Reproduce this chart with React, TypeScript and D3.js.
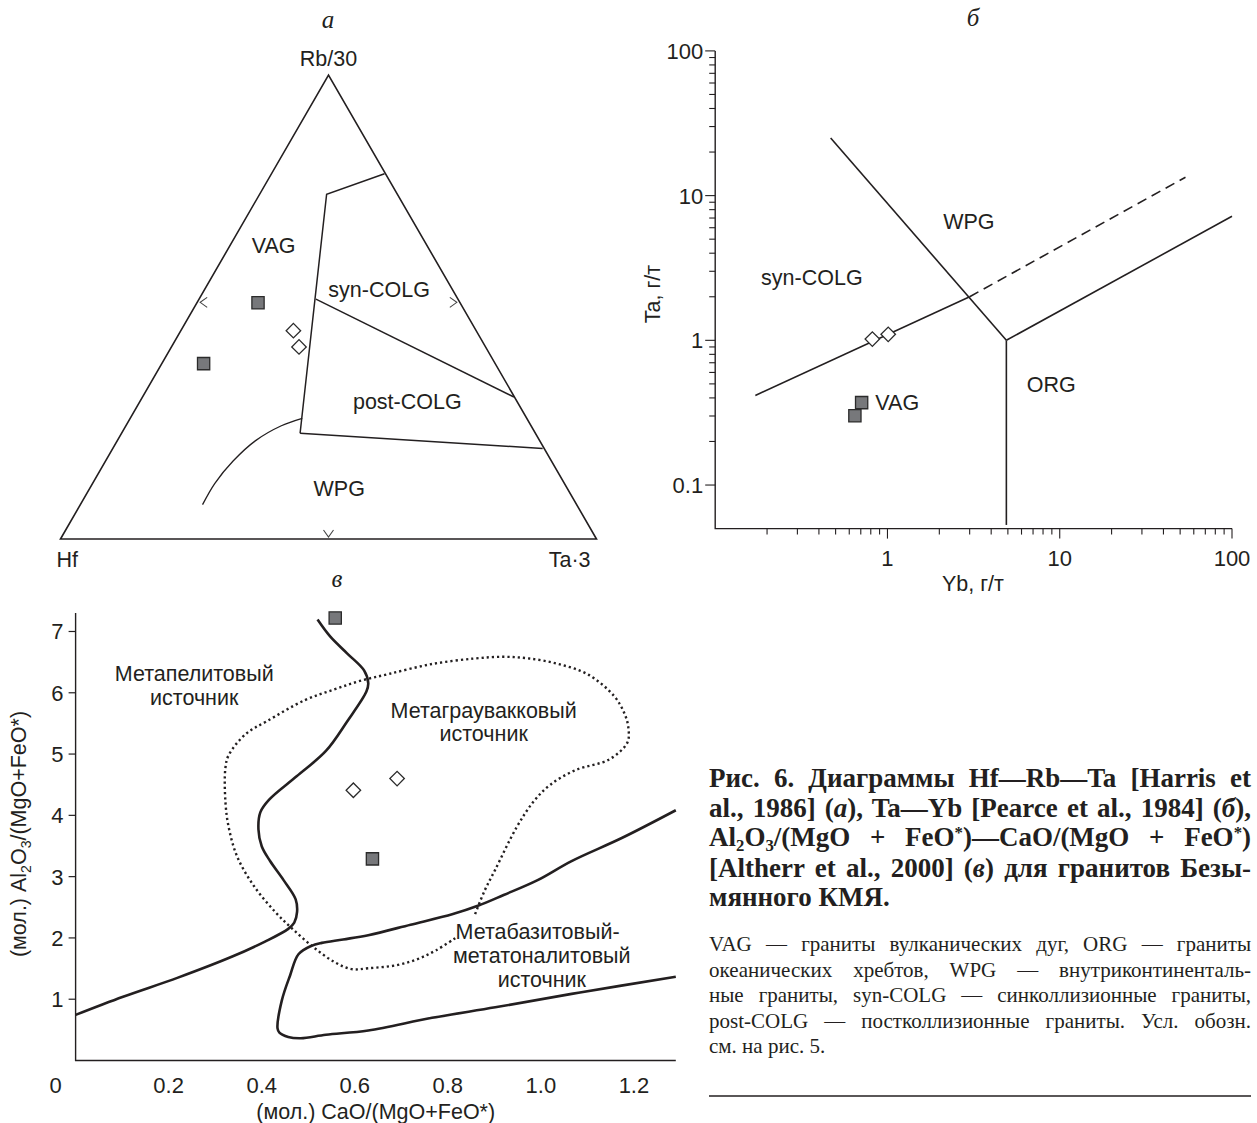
import React, { useLayoutEffect, useRef } from 'react';
import * as d3 from 'd3';

const W = 1257;
const H = 1123;
const SANS = '"Liberation Sans", Arial, sans-serif';
const SERIF = '"Liberation Serif", "Times New Roman", serif';
const INK = '#231f20';
const LABEL = 21.5;
const TICK = 22;

// ---------- Panel а : ternary Hf – Rb/30 – Ta·3 (points given as [Rb/30, Ta·3] fractions) ----------
const ternaryUpperBoundary = [[0.787, 0.211], [0.743, 0.125], [0.228, 0.333]];
const ternarySynPostBoundary = [[0.517, 0.218], [0.306, 0.693]];
const ternaryPostWpgBoundary = [[0.228, 0.333], [0.195, 0.802]];
const ternaryWpgCurve = [[0.260, 0.321], [0.244, 0.290], [0.212, 0.258], [0.168, 0.238], [0.120, 0.228], [0.074, 0.228]];
const ternarySquares = [[0.509, 0.114], [0.378, 0.078]];
const ternaryDiamonds = [[0.449, 0.210], [0.414, 0.238]];
const ternaryFieldLabels = [
  { text: 'VAG', rb: 0.633, ta: 0.081 },
  { text: 'syn-COLG', rb: 0.537, ta: 0.326 },
  { text: 'post-COLG', rb: 0.296, ta: 0.499 },
  { text: 'WPG', rb: 0.108, ta: 0.466 },
];
const ternaryEdgeMarks = [[0.51, 0.0, 'left'], [0.51, 0.49, 'right'], [0.0, 0.5, 'bottom']];
const ternaryApexLabels = ['Hf', 'Rb/30', 'Ta·3'];

// ---------- Panel б : Ta – Yb (log–log) ----------
const ybTickLabels = [1, 10, 100];
const taTickLabels = [0.1, 1, 10, 100];
const pearceUpperLine = [[0.468, 25], [4.9, 1.0]];
const pearceVerticalLine = [[4.9, 1.0], [4.9, 0.053]];
const pearceRightLine = [[4.9, 1.0], [100, 7.2]];
const pearceLowerLine = [[0.171, 0.416], [3.0, 2.0]];
const pearceDashedLine = [[3.0, 2.0], [53.7, 13.4]];
const pearceSquares = [[0.708, 0.371], [0.647, 0.301]];
const pearceDiamonds = [[0.817, 1.02], [1.01, 1.10]];
const pearceFieldLabels = [
  { text: 'WPG', x: 2.97, y: 6.65 },
  { text: 'syn-COLG', x: 0.364, y: 2.71 },
  { text: 'VAG', x: 1.14, y: 0.371 },
  { text: 'ORG', x: 8.92, y: 0.499 },
];

// ---------- Panel в : Al2O3/(MgO+FeO*) – CaO/(MgO+FeO*) ----------
const caoTicks = [0.2, 0.4, 0.6, 0.8, 1.0, 1.2];
const alTicks = [1, 2, 3, 4, 5, 6, 7];
const peliteBoundary = [
  [0.520, 7.195], [0.547, 6.92], [0.584, 6.64], [0.620, 6.365], [0.629, 6.157], [0.625, 6.02],
  [0.584, 5.536], [0.538, 5.05], [0.475, 4.637], [0.416, 4.256], [0.397, 4.049], [0.393, 3.77],
  [0.400, 3.496], [0.418, 3.254], [0.447, 2.943], [0.473, 2.63], [0.476, 2.424], [0.470, 2.25],
  [0.457, 2.148], [0.407, 1.94], [0.338, 1.70], [0.220, 1.352], [0.102, 1.04], [0.0, 0.744],
];
const basiteBoundary = [
  [1.29, 4.083], [1.175, 3.634], [1.066, 3.254], [0.993, 2.943], [0.920, 2.70], [0.866, 2.528],
  [0.811, 2.39], [0.720, 2.216], [0.629, 2.045], [0.575, 1.975], [0.529, 1.919], [0.507, 1.871],
  [0.479, 1.733], [0.461, 1.388], [0.443, 0.973], [0.434, 0.523], [0.438, 0.454], [0.457, 0.384],
  [0.484, 0.364], [0.538, 0.42], [0.629, 0.489], [0.766, 0.696], [0.902, 0.868], [1.084, 1.11],
  [1.29, 1.366],
];
const greywackeBoundary = [
  [0.816, 1.996], [0.775, 1.80], [0.738, 1.664], [0.693, 1.56], [0.629, 1.505], [0.593, 1.491],
  [0.556, 1.608], [0.511, 1.85], [0.466, 2.148], [0.429, 2.424], [0.384, 2.839], [0.3475, 3.323],
  [0.329, 3.807], [0.322, 4.222], [0.322, 4.775], [0.329, 4.982], [0.366, 5.329], [0.411, 5.536],
  [0.493, 5.881], [0.556, 6.054], [0.611, 6.193], [0.675, 6.31], [0.766, 6.469], [0.857, 6.559],
  [0.920, 6.587], [0.975, 6.559], [1.038, 6.469], [1.102, 6.296], [1.157, 5.95], [1.179, 5.674],
  [1.188, 5.432], [1.186, 5.19], [1.147, 4.913], [1.075, 4.74], [1.020, 4.498], [0.984, 4.222],
  [0.948, 3.807], [0.902, 3.115], [0.879, 2.77], [0.857, 2.355],
];
const altherrSquares = [[0.558, 7.22], [0.638, 3.29]];
const altherrDiamonds = [[0.597, 4.41], [0.691, 4.60]];
const altherrFieldLabels = [
  { text: 'Метапелитовый', x: 0.255, y: 6.317 },
  { text: 'источник', x: 0.255, y: 5.916 },
  { text: 'Метаграувакковый', x: 0.877, y: 5.708 },
  { text: 'источник', x: 0.877, y: 5.329 },
  { text: 'Метабазитовый-', x: 0.993, y: 2.113 },
  { text: 'метатоналитовый', x: 1.002, y: 1.711 },
  { text: 'источник', x: 1.002, y: 1.317 },
];

// ---------- Caption ----------
type Seg = { t: string; i?: boolean; sub?: boolean; sup?: boolean };
const captionBoldLines: Seg[][] = [
  [{ t: 'Рис. 6. Диаграммы Hf—Rb—Ta [Harris et' }],
  [{ t: 'al., 1986] (' }, { t: 'а', i: true }, { t: '), Ta—Yb [Pearce et al., 1984] (' }, { t: 'б', i: true }, { t: '),' }],
  [{ t: 'Al' }, { t: '2', sub: true }, { t: 'O' }, { t: '3', sub: true }, { t: '/(MgO + FeO' }, { t: '*', sup: true }, { t: ')—CaO/(MgO + FeO' }, { t: '*', sup: true }, { t: ')' }],
  [{ t: '[Altherr et al., 2000] (' }, { t: 'в', i: true }, { t: ') для гранитов Безы-' }],
  [{ t: 'мянного КМЯ.' }],
];
const captionBodyLines: Seg[][] = [
  [{ t: 'VAG — граниты вулканических дуг, ORG — граниты' }],
  [{ t: 'океанических хребтов, WPG — внутриконтиненталь-' }],
  [{ t: 'ные граниты, syn-COLG — синколлизионные граниты,' }],
  [{ t: 'post-COLG — постколлизионные граниты. Усл. обозн.' }],
  [{ t: 'см. на рис. 5.' }],
];

function Segs({ segs, size }: { segs: Seg[]; size: number }) {
  const out: React.ReactNode[] = [];
  let shift = 0;
  segs.forEach((s, k) => {
    let target = 0;
    if (s.sub) target = size * 0.2;
    if (s.sup) target = -size * 0.3;
    const dy = target - shift;
    shift = target;
    out.push(
      <tspan key={k} dy={dy || undefined} fontStyle={s.i ? 'italic' : undefined}
        fontSize={s.sub || s.sup ? size * 0.62 : undefined}>{s.t}</tspan>
    );
  });
  return <>{out}</>;
}

function JustifiedText({ segs, x, y, width, justify, size, weight }:
  { segs: Seg[]; x: number; y: number; width: number; justify: boolean; size: number; weight: string }) {
  const ref = useRef<SVGTextElement>(null);
  useLayoutEffect(() => {
    const el = ref.current;
    if (!el || !justify) return;
    el.setAttribute('word-spacing', '0');
    const natural = el.getComputedTextLength();
    const spaces = segs.map(s => s.t).join('').split(' ').length - 1;
    if (spaces > 0) el.setAttribute('word-spacing', String((width - natural) / spaces));
  }, [segs, width, justify]);
  return (
    <text ref={ref} x={x} y={y} fontFamily={SERIF} fontSize={size} fontWeight={weight} fill={INK}>
      <Segs segs={segs} size={size} />
    </text>
  );
}

const squarePath = d3.symbol(d3.symbolSquare, 150)() as string;
const diamondPath = d3.symbol(d3.symbolSquare, 105)() as string;

function Square({ x, y }: { x: number; y: number }) {
  return <path d={squarePath} transform={`translate(${x},${y})`} fill="#77787b" stroke="#2b2b2b" strokeWidth={1.3} />;
}
function Diamond({ x, y }: { x: number; y: number }) {
  return <path d={diamondPath} transform={`translate(${x},${y}) rotate(45)`} fill="#fff" stroke="#2b2b2b" strokeWidth={1.3} />;
}

function PanelA() {
  const sx = d3.scaleLinear().domain([0, 1]).range([60.5, 596.5]);
  const sy = d3.scaleLinear().domain([0, 1]).range([539, 75]);
  const P = (rb: number, ta: number): [number, number] => [sx(ta + rb / 2), sy(rb)];
  const lin = d3.line<number[]>().x(d => P(d[0], d[1])[0]).y(d => P(d[0], d[1])[1]);
  const curve = d3.line<number[]>().x(d => P(d[0], d[1])[0]).y(d => P(d[0], d[1])[1]).curve(d3.curveCatmullRom.alpha(0.5));
  const tri = [[0, 0], [1, 0], [0, 1], [0, 0]];
  const hf = P(0, 0), ta = P(0, 1), rb = P(1, 0);
  return (
    <g>
      <text x={328} y={28} fontFamily={SERIF} fontStyle="italic" fontSize={25} textAnchor="middle" fill={INK}>а</text>
      <path d={lin(tri) as string + 'Z'} fill="none" stroke={INK} strokeWidth={1.6} strokeLinejoin="miter" />
      <path d={lin(ternaryUpperBoundary) as string} fill="none" stroke={INK} strokeWidth={1.5} />
      <path d={lin(ternarySynPostBoundary) as string} fill="none" stroke={INK} strokeWidth={1.5} />
      <path d={lin(ternaryPostWpgBoundary) as string} fill="none" stroke={INK} strokeWidth={1.5} />
      <path d={curve(ternaryWpgCurve) as string} fill="none" stroke={INK} strokeWidth={1.3} />
      {ternaryEdgeMarks.map((m, k) => {
        const [x, y] = P(m[0] as number, m[1] as number);
        let d = '';
        if (m[2] === 'left') d = `M${x + 10},${y - 5}L${x + 3},${y}L${x + 10},${y + 5}`;
        if (m[2] === 'right') d = `M${x - 10},${y - 5}L${x - 3},${y}L${x - 10},${y + 5}`;
        if (m[2] === 'bottom') d = `M${x - 5},${y - 9}L${x},${y - 2}L${x + 5},${y - 9}`;
        return <path key={k} d={d} fill="none" stroke="#444" strokeWidth={1.1} />;
      })}
      {ternaryFieldLabels.map((l, k) => {
        const [x, y] = P(l.rb, l.ta);
        return <text key={k} x={x} y={y} dy="0.35em" textAnchor="middle" fontFamily={SANS} fontSize={LABEL} fill={INK}>{l.text}</text>;
      })}
      <text x={rb[0]} y={rb[1] - 9} textAnchor="middle" fontFamily={SANS} fontSize={LABEL} fill={INK}>{ternaryApexLabels[1]}</text>
      <text x={hf[0] - 4} y={hf[1] + 28} textAnchor="start" fontFamily={SANS} fontSize={LABEL} fill={INK}>{ternaryApexLabels[0]}</text>
      <text x={ta[0] - 6} y={ta[1] + 28} textAnchor="end" fontFamily={SANS} fontSize={LABEL} fill={INK}>{ternaryApexLabels[2]}</text>
      {ternarySquares.map((p, k) => { const [x, y] = P(p[0], p[1]); return <Square key={k} x={x} y={y} />; })}
      {ternaryDiamonds.map((p, k) => { const [x, y] = P(p[0], p[1]); return <Diamond key={k} x={x} y={y} />; })}
    </g>
  );
}

function PanelB() {
  const x = d3.scaleLog().domain([0.1, 100]).range([715.2, 1232]);
  const y = d3.scaleLog().domain([0.05, 100]).range([528.6, 50.9]);
  const lin = d3.line<number[]>().x(d => x(d[0])).y(d => y(d[1]));
  const xTicks = x.ticks().filter(v => v > 0.1 + 1e-9);
  const yTicks = y.ticks().filter(v => v >= 0.1 - 1e-9);
  const isMajor = (v: number) => Math.abs(Math.log10(v) - Math.round(Math.log10(v))) < 1e-6;
  const x0 = x.range()[0], y0 = y.range()[0];
  return (
    <g>
      <text x={973} y={26} fontFamily={SERIF} fontStyle="italic" fontSize={25} textAnchor="middle" fill={INK}>б</text>
      <path d={`M${x0},${y(100)}V${y0}H${x(100)}`} fill="none" stroke={INK} strokeWidth={1.4} />
      {yTicks.map((v, k) => (
        <line key={k} x1={x0} x2={x0 - (isMajor(v) ? 10 : 6)} y1={y(v)} y2={y(v)} stroke={INK} strokeWidth={1.1} />
      ))}
      {xTicks.map((v, k) => (
        <line key={k} x1={x(v)} x2={x(v)} y1={y0} y2={y0 + (isMajor(v) ? 10 : 6)} stroke={INK} strokeWidth={1.1} />
      ))}
      {taTickLabels.map((v, k) => (
        <text key={k} x={x0 - 12} y={y(v)} dy="0.36em" textAnchor="end" fontFamily={SANS} fontSize={TICK} fill={INK}>{String(v)}</text>
      ))}
      {ybTickLabels.map((v, k) => (
        <text key={k} x={x(v)} y={566} textAnchor="middle" fontFamily={SANS} fontSize={TICK} fill={INK}>{String(v)}</text>
      ))}
      <text x={973} y={591} textAnchor="middle" fontFamily={SANS} fontSize={LABEL} fill={INK}>Yb, г/т</text>
      <text transform={`translate(660,294) rotate(-90)`} textAnchor="middle" fontFamily={SANS} fontSize={LABEL} fill={INK}>Ta, г/т</text>
      <path d={lin(pearceUpperLine) as string} fill="none" stroke={INK} strokeWidth={1.6} />
      <path d={lin(pearceVerticalLine) as string} fill="none" stroke={INK} strokeWidth={1.6} />
      <path d={lin(pearceRightLine) as string} fill="none" stroke={INK} strokeWidth={1.6} />
      <path d={lin(pearceLowerLine) as string} fill="none" stroke={INK} strokeWidth={1.6} />
      <path d={lin(pearceDashedLine) as string} fill="none" stroke={INK} strokeWidth={1.6} strokeDasharray="10,6" />
      {pearceFieldLabels.map((l, k) => (
        <text key={k} x={x(l.x)} y={y(l.y)} dy="0.35em" textAnchor="middle" fontFamily={SANS} fontSize={LABEL} fill={INK}>{l.text}</text>
      ))}
      {pearceSquares.map((p, k) => <Square key={k} x={x(p[0])} y={y(p[1])} />)}
      {pearceDiamonds.map((p, k) => <Diamond key={k} x={x(p[0])} y={y(p[1])} />)}
    </g>
  );
}

function PanelC() {
  const x = d3.scaleLinear().domain([0, 1.29]).range([75.6, 675.8]);
  const y = d3.scaleLinear().domain([0, 7.3]).range([1060.5, 613.1]);
  const smooth = d3.line<number[]>().x(d => x(d[0])).y(d => y(d[1])).curve(d3.curveCatmullRom.alpha(0.5));
  return (
    <g>
      <text x={337} y={587} fontFamily={SERIF} fontStyle="italic" fontSize={25} textAnchor="middle" fill={INK}>в</text>
      <path d={`M${x(0)},${y(7.3)}V${y(0)}H${x(1.29)}`} fill="none" stroke={INK} strokeWidth={1.4} />
      {alTicks.map((v, k) => (
        <g key={k}>
          <line x1={x(0)} x2={x(0) - 7} y1={y(v)} y2={y(v)} stroke={INK} strokeWidth={1.2} />
          <text x={x(0) - 12} y={y(v)} dy="0.36em" textAnchor="end" fontFamily={SANS} fontSize={TICK} fill={INK}>{v}</text>
        </g>
      ))}
      <text x={x(0) - 20} y={1093} textAnchor="middle" fontFamily={SANS} fontSize={TICK} fill={INK}>0</text>
      {caoTicks.map((v, k) => (
        <text key={k} x={x(v)} y={1093} textAnchor="middle" fontFamily={SANS} fontSize={TICK} fill={INK}>{d3.format('.1f')(v)}</text>
      ))}
      <text x={x(0.645)} y={1119} textAnchor="middle" fontFamily={SANS} fontSize={LABEL} fill={INK}>(мол.) CaO/(MgO+FeO*)</text>
      <text transform={`translate(26,834) rotate(-90)`} textAnchor="middle" fontFamily={SANS} fontSize={LABEL} fill={INK}>
        <tspan>(мол.) Al</tspan><tspan fontSize={14} dy={5}>2</tspan><tspan dy={-5}>O</tspan>
        <tspan fontSize={14} dy={5}>3</tspan><tspan dy={-5}>/(MgO+FeO*)</tspan>
      </text>
      <path d={smooth(peliteBoundary) as string} fill="none" stroke={INK} strokeWidth={2.6} strokeLinejoin="round" />
      <path d={smooth(basiteBoundary) as string} fill="none" stroke={INK} strokeWidth={2.6} strokeLinejoin="round" />
      <path d={smooth(greywackeBoundary) as string} fill="none" stroke={INK} strokeWidth={2.4} strokeDasharray="2.2,3" />
      {altherrFieldLabels.map((l, k) => (
        <text key={k} x={x(l.x)} y={y(l.y)} dy="0.35em" textAnchor="middle" fontFamily={SANS} fontSize={LABEL} fill={INK}>{l.text}</text>
      ))}
      {altherrSquares.map((p, k) => <Square key={k} x={x(p[0])} y={y(p[1])} />)}
      {altherrDiamonds.map((p, k) => <Diamond key={k} x={x(p[0])} y={y(p[1])} />)}
    </g>
  );
}

function Caption() {
  const left = 709, right = 1251;
  const boldY = [787, 817, 846, 877, 906];
  const bodyY = [951, 977, 1002, 1028, 1053];
  return (
    <g>
      {captionBoldLines.map((segs, k) => (
        <JustifiedText key={'b' + k} segs={segs} x={left} y={boldY[k]} width={right - left}
          justify={k < captionBoldLines.length - 1} size={27} weight="bold" />
      ))}
      {captionBodyLines.map((segs, k) => (
        <JustifiedText key={'r' + k} segs={segs} x={left} y={bodyY[k]} width={right - left}
          justify={k < captionBodyLines.length - 1} size={21} weight="normal" />
      ))}
      <line x1={left} x2={right} y1={1096} y2={1096} stroke={INK} strokeWidth={1.3} />
    </g>
  );
}

export default function App() {
  return (
    <svg width={W} height={H} viewBox={`0 0 ${W} ${H}`}
      style={{ position: 'absolute', left: 0, top: 0, background: '#fff' }}>
      <rect width={W} height={H} fill="#fff" />
      <PanelA />
      <PanelB />
      <PanelC />
      <Caption />
    </svg>
  );
}
